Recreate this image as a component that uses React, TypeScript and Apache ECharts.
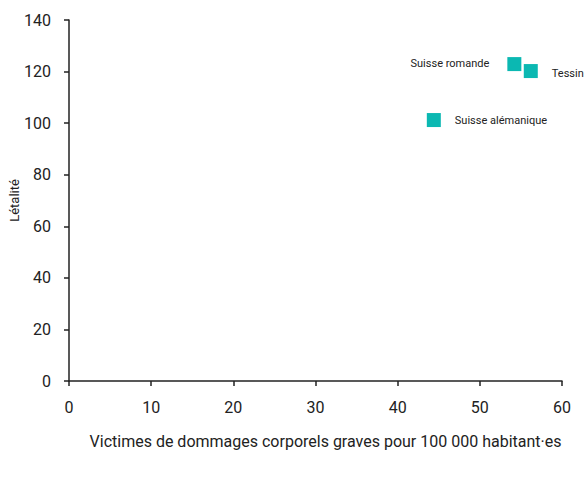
import React, { useEffect, useRef } from "react";
import * as echarts from "echarts";

const regions = ["Suisse romande", "Tessin", "Suisse alémanique"];
const victims = [54.2, 56.2, 44.4];
const lethality = [122.9, 120.2, 101.2];
const labelSides = ["left", "right", "right"];

const FONT = "Roboto, 'Noto Sans', sans-serif";

export default function App() {
  const ref = useRef<HTMLDivElement>(null);
  useEffect(() => {
    if (!ref.current) return;
    const chart = echarts.init(ref.current, undefined, { renderer: "svg" });
    const data = regions.map((name, i) => ({
      name,
      value: [victims[i], lethality[i]],
      label: {
        show: true,
        position: labelSides[i],
        distance: labelSides[i] === "left" ? 18 : 14,
        formatter: name,
        color: "#222",
        fontSize: 11,
        fontFamily: FONT,
        offset: name === "Tessin" ? [0, 2] : name === "Suisse romande" ? [0, -1] : [0, 0],
      },
    }));
    chart.setOption({
      animation: false,
      textStyle: { fontFamily: FONT },
      grid: {
        left: 69,
        right: 25,
        top: 20,
        bottom: 98,
        containLabel: false,
        outerBoundsMode: "none",
      },
      xAxis: {
        type: "value",
        min: 0,
        max: 60,
        interval: 10,
        name: "Victimes de dommages corporels graves pour 100 000 habitant·es",
        nameLocation: "middle",
        nameGap: 52,
        nameMoveOverlap: false,
        nameTextStyle: { fontSize: 16, color: "#222", fontFamily: FONT, padding: [0, 0, 0, 20] },
        axisLine: { show: true, lineStyle: { color: "#222", width: 1.5 } },
        axisTick: { show: true, length: 5, lineStyle: { color: "#222", width: 1.5 } },
        axisLabel: { fontSize: 16, color: "#222", margin: 18, fontFamily: FONT },
        splitLine: { show: false },
      },
      yAxis: {
        type: "value",
        min: 0,
        max: 140,
        interval: 20,
        name: "Létalité",
        nameLocation: "middle",
        nameGap: 48,
        nameMoveOverlap: false,
        nameRotate: 90,
        nameTextStyle: { fontSize: 13, color: "#222", fontFamily: FONT },
        axisLine: { show: true, lineStyle: { color: "#222", width: 1.5 } },
        axisTick: { show: true, length: 5, lineStyle: { color: "#222", width: 1.5 } },
        axisLabel: { fontSize: 16, color: "#222", margin: 18, fontFamily: FONT },
        splitLine: { show: false },
      },
      series: [
        {
          type: "scatter",
          symbol: "rect",
          symbolSize: 14,
          itemStyle: { color: "#0bb8b2", opacity: 1 },
          data,
        },
      ],
    });
    return () => chart.dispose();
  }, []);
  return (
    <div
      ref={ref}
      style={{ position: "absolute", left: 0, top: 0, width: 587, height: 479 }}
    />
  );
}
